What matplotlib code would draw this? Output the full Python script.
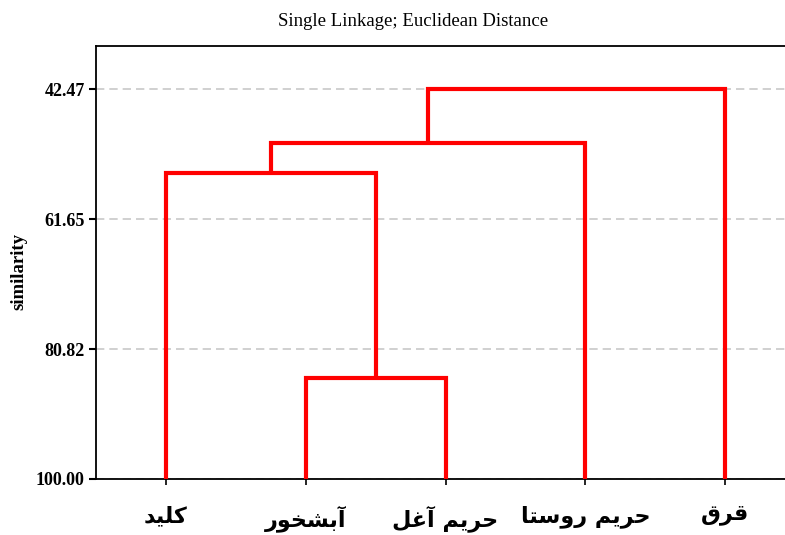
import matplotlib
matplotlib.use("Agg")
import matplotlib.pyplot as plt

# leaves of the dendrogram (left to right) and merges (child a, child b, similarity)
labels = ['کلید', 'آبشخور', 'حریم آغل', 'حریم روستا', 'قرق']
merges = [(1, 2, 85.06), (0, 5, 54.82), (6, 3, 50.47), (7, 4, 42.47)]
yticks = [42.47, 61.65, 80.82, 100.00]

# presentation forms: isolated, final, initial, medial (None = right-joining only)
FORMS = {
    'آ': ('\uFE81', '\uFE82', None, None),
    'ا': ('\uFE8D', '\uFE8E', None, None),
    'ب': ('\uFE8F', '\uFE90', '\uFE91', '\uFE92'),
    'ت': ('\uFE95', '\uFE96', '\uFE97', '\uFE98'),
    'ح': ('\uFEA1', '\uFEA2', '\uFEA3', '\uFEA4'),
    'خ': ('\uFEA5', '\uFEA6', '\uFEA7', '\uFEA8'),
    'د': ('\uFEA9', '\uFEAA', None, None),
    'ر': ('\uFEAD', '\uFEAE', None, None),
    'س': ('\uFEB1', '\uFEB2', '\uFEB3', '\uFEB4'),
    'ش': ('\uFEB5', '\uFEB6', '\uFEB7', '\uFEB8'),
    'غ': ('\uFECD', '\uFECE', '\uFECF', '\uFED0'),
    'ق': ('\uFED5', '\uFED6', '\uFED7', '\uFED8'),
    'ل': ('\uFEDD', '\uFEDE', '\uFEDF', '\uFEE0'),
    'م': ('\uFEE1', '\uFEE2', '\uFEE3', '\uFEE4'),
    'و': ('\uFEED', '\uFEEE', None, None),
    'ک': ('\uFB8E', '\uFB8F', '\uFB90', '\uFB91'),
    'ی': ('\uFBFC', '\uFBFD', '\uFBFE', '\uFBFF'),
}


def shape(s):
    # join letters into their contextual forms, then reverse for left-to-right drawing
    out = []
    for i, ch in enumerate(s):
        if ch not in FORMS:
            out.append(ch)
            continue
        prev = s[i - 1] if i > 0 else None
        nxt = s[i + 1] if i + 1 < len(s) else None
        jp = prev in FORMS and FORMS[prev][2] is not None
        jn = nxt in FORMS and FORMS[ch][2] is not None
        f = FORMS[ch]
        if jp and jn:
            out.append(f[3])
        elif jp:
            out.append(f[1])
        elif jn:
            out.append(f[2])
        else:
            out.append(f[0])
    return ''.join(out)[::-1]


fig = plt.figure(figsize=(7.85, 5.35), dpi=100)
ax = fig.add_axes([96 / 785, 56 / 535, 699 / 785, 433 / 535])

xs = [i + 0.5 for i in range(len(labels))]
hs = [100.0] * len(labels)
for a, b, h in merges:
    xa, xb = xs[a], xs[b]
    ax.plot([xa, xa, xb, xb], [hs[a], h, h, hs[b]], color='#ff0000', lw=3,
            solid_joinstyle='miter', solid_capstyle='butt', zorder=3)
    xs.append((xa + xb) / 2)
    hs.append(h)

ax.set_xlim(0, 5)
ax.set_ylim(100, 36.08)
ax.set_yticks(yticks, [f'{v:.2f}' for v in yticks],
              fontfamily='Liberation Serif', fontweight='bold', fontsize=13)
ax.set_xticks(xs[:len(labels)], [shape(l) for l in labels],
              fontfamily='DejaVu Sans', fontweight='bold', fontsize=16)
ax.tick_params(axis='y', direction='out', length=5, width=1.5, pad=3)
ax.tick_params(axis='x', direction='out', length=4, width=1.2, pad=15)
ax.yaxis.grid(True, color='#c8c8c8', linestyle=(0, (5, 3)), lw=1.2)
ax.set_axisbelow(True)
for sp in ax.spines.values():
    sp.set_linewidth(1.3)
ax.spines['right'].set_visible(False)

fig.text(19 / 785, 1 - 272 / 535, 'similarity', rotation=90, ha='center', va='center',
         fontfamily='Liberation Serif', fontweight='bold', fontsize=13.5)
fig.text(413 / 785, 1 - 21 / 535, 'Single Linkage; Euclidean Distance', ha='center', va='center',
         fontfamily='Liberation Serif', fontsize=13.5)

fig.savefig('out.png', dpi=100)
